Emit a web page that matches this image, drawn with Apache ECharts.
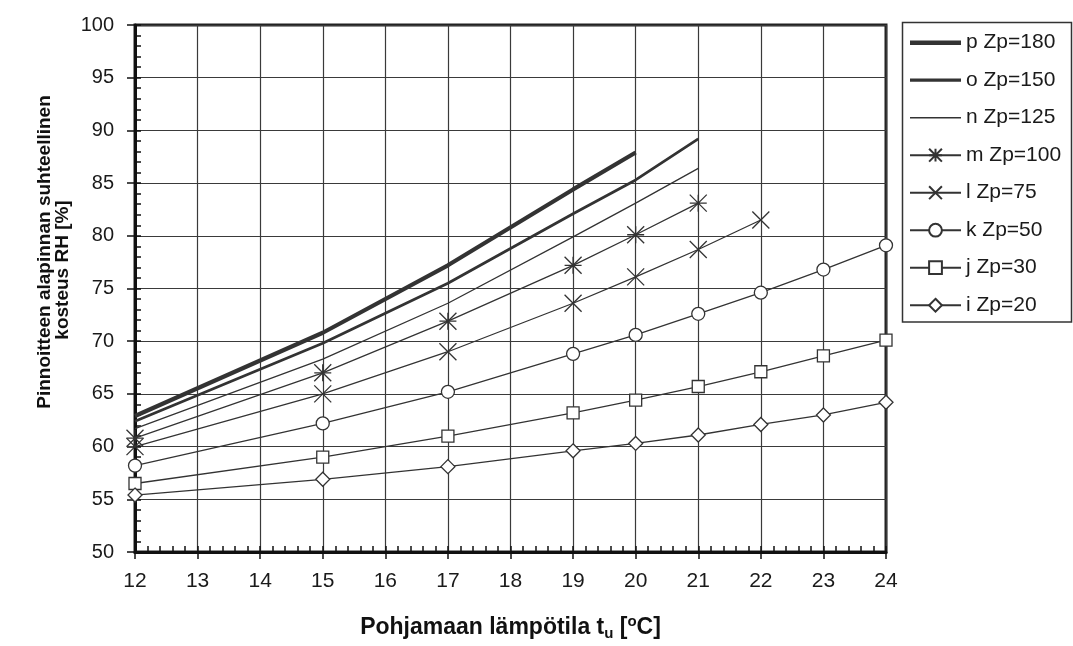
<!DOCTYPE html>
<html>
<head>
<meta charset="utf-8">
<script src="https://cdn.jsdelivr.net/npm/echarts@6/dist/echarts.min.js"></script>
<style>
html,body{margin:0;padding:0;background:#fff;}
#chart{width:1073px;height:646px;}
</style>
</head>
<body>
<div id="chart"></div>
<script>
// ---- data ----
var seriesNames = ['p Zp=180','o Zp=150','n Zp=125','m Zp=100','l Zp=75','k Zp=50','j Zp=30','i Zp=20'];
var tP = [12,15,17,19,20];
var rhP = [62.9,70.8,77.2,84.4,87.9];
var tO = [12,15,17,19,20,21];
var rhO = [62.4,69.8,75.5,82.1,85.3,89.2];
var tN = [12,15,17,19,20,21];
var rhN = [61.7,68.3,73.6,79.9,83.1,86.4];
var tM = [12,15,17,19,20,21];
var rhM = [60.8,67.0,71.9,77.2,80.1,83.1];
var tL = [12,15,17,19,20,21,22];
var rhL = [60.0,65.0,69.0,73.6,76.1,78.7,81.5];
var tK = [12,15,17,19,20,21,22,23,24];
var rhK = [58.2,62.2,65.2,68.8,70.6,72.6,74.6,76.8,79.1];
var tJ = [12,15,17,19,20,21,22,23,24];
var rhJ = [56.5,59.0,61.0,63.2,64.4,65.7,67.1,68.6,70.1];
var tI = [12,15,17,19,20,21,22,23,24];
var rhI = [55.4,56.9,58.1,59.6,60.3,61.1,62.1,63.0,64.2];
var xTicks = [12,13,14,15,16,17,18,19,20,21,22,23,24];
var yTicks = [50,55,60,65,70,75,80,85,90,95,100];
var xTitle = 'Pohjamaan lämpötila t{sub|u} [{sup|o}C]';
var yTitle1 = 'Pinnoitteen alapinnan suhteellinen';
var yTitle2 = 'kosteus RH [%]';

function pairs(xs, ys){ return xs.map(function(x,i){ return [x, ys[i]]; }); }

var LINE = '#333333';
var FONT = '"Liberation Sans", Arial, sans-serif';
var asterisk = 'path://M0,5L10,5M5,0L5,10M0,0L10,10M10,0L0,10';
var cross = 'path://M0,0L10,10M10,0L0,10';

function mk(name, xs, ys, width, symbol, size){
  return {
    name: name, type: 'line', data: pairs(xs, ys),
    xAxisIndex: 0, yAxisIndex: 0,
    symbol: symbol || 'none', symbolSize: size || 12,
    showSymbol: !!symbol,
    lineStyle: {color: LINE, width: width},
    itemStyle: symbol ? {color: '#ffffff', borderColor: LINE, borderWidth: 1.3} : {color: LINE},
    emphasis: {disabled: true},
    animation: false, z: 3
  };
}

var series = [
  mk(seriesNames[0], tP, rhP, 4.2),
  mk(seriesNames[1], tO, rhO, 2.8),
  mk(seriesNames[2], tN, rhN, 1.3),
  mk(seriesNames[3], tM, rhM, 1.3, asterisk, 17),
  mk(seriesNames[4], tL, rhL, 1.3, cross, 17),
  mk(seriesNames[5], tK, rhK, 1.3, 'circle', 13),
  mk(seriesNames[6], tJ, rhJ, 1.3, 'rect', 12),
  mk(seriesNames[7], tI, rhI, 1.3, 'diamond', 14)
];

var legendData = [
  {name: seriesNames[0], icon: 'path://M0,0H51V4.6H0Z'},
  {name: seriesNames[1], icon: 'path://M0,0H51V3.2H0Z'},
  {name: seriesNames[2], icon: 'path://M0,0H51V1.4H0Z'},
  {name: seriesNames[3]}, {name: seriesNames[4]}, {name: seriesNames[5]},
  {name: seriesNames[6]}, {name: seriesNames[7]}
];

var chart = echarts.init(document.getElementById('chart'), null, {renderer: 'canvas'});
chart.setOption({
  animation: false,
  backgroundColor: '#fff',
  grid: {left: 135, right: 187, top: 25, bottom: 90, show: true, borderColor: '#222', borderWidth: 3, backgroundColor: 'transparent'},
  legend: {
    orient: 'vertical', left: 909, top: 32.2, padding: 0,
    itemWidth: 51, itemHeight: 16, itemGap: 16.5,
    data: legendData,
    textStyle: {fontFamily: FONT, fontSize: 21, color: '#1a1a1a'},
    selectedMode: false
  },
  xAxis: [{
    type: 'value', min: xTicks[0], max: xTicks[xTicks.length-1], interval: 1,
    axisLine: {show: true, lineStyle: {color: '#111', width: 3}},
    axisTick: {show: true, inside: false, length: 7, lineStyle: {color: '#111', width: 1.5}},
    axisLabel: {margin: 19, fontFamily: FONT, fontSize: 21, color: '#1a1a1a'},
    splitLine: {show: true, lineStyle: {color: '#3a3a3a', width: 1.2}},
    name: xTitle, nameLocation: 'middle', nameGap: 62,
    nameTextStyle: {fontFamily: FONT, fontSize: 23, fontWeight: 'bold', color: '#111', lineHeight: 27,
      rich: {
        sub: {fontFamily: FONT, fontSize: 15, fontWeight: 'bold', color: '#111', verticalAlign: 'bottom', lineHeight: 27, padding: [10,0,0,0]},
        sup: {fontFamily: FONT, fontSize: 15, fontWeight: 'bold', color: '#111', verticalAlign: 'top', lineHeight: 27, padding: [0,0,10,0]}
      }}
  }, {
    type: 'value', min: xTicks[0], max: xTicks[xTicks.length-1], interval: 1, position: 'bottom',
    axisLine: {show: false},
    axisTick: {show: true, inside: true, length: 6, lineStyle: {color: '#111', width: 1.5}},
    minorTick: {show: true, splitNumber: 5, length: 6, lineStyle: {color: '#111', width: 1.5}},
    axisLabel: {show: false}, splitLine: {show: false}
  }],
  yAxis: [{
    type: 'value', min: yTicks[0], max: yTicks[yTicks.length-1], interval: 5,
    axisLine: {show: true, lineStyle: {color: '#111', width: 3}},
    axisTick: {show: true, inside: false, length: 8, lineStyle: {color: '#111', width: 1.5}},
    axisLabel: {margin: 21, fontFamily: FONT, fontSize: 20, color: '#1a1a1a'},
    splitLine: {show: true, lineStyle: {color: '#3a3a3a', width: 1.2}}
  }, {
    type: 'value', min: yTicks[0], max: yTicks[yTicks.length-1], interval: 5, position: 'left',
    axisLine: {show: false},
    axisTick: {show: true, inside: true, length: 6, lineStyle: {color: '#111', width: 1.5}},
    minorTick: {show: true, splitNumber: 5, length: 6, lineStyle: {color: '#111', width: 1.5}},
    axisLabel: {show: false}, splitLine: {show: false}
  }],
  graphic: [
    {type: 'rect', shape: {x: 902.5, y: 22.5, width: 169, height: 299.5},
     style: {fill: 'none', stroke: '#333', lineWidth: 1.5}, silent: true},
    {type: 'text', x: 45, y: 252, rotation: Math.PI/2,
     style: {text: yTitle1, fontFamily: FONT, fontSize: 19, fontWeight: 'bold', fill: '#111', align: 'center', verticalAlign: 'middle'}},
    {type: 'text', x: 63, y: 270, rotation: Math.PI/2,
     style: {text: yTitle2, fontFamily: FONT, fontSize: 19, fontWeight: 'bold', fill: '#111', align: 'center', verticalAlign: 'middle'}}
  ],
  series: series
});
</script>
</body>
</html>
